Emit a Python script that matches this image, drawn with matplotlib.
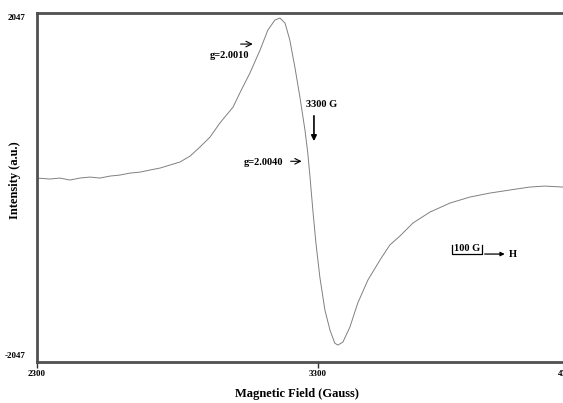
import numpy as np
import matplotlib.pyplot as plt
from matplotlib.transforms import blended_transform_factory

# EPR-spekter: magnetfelt (Gauss) og intensitet (a.u.), lest av figuren
felt = [2300, 2346, 2382, 2417, 2453, 2489, 2524, 2560, 2595, 2631, 2667,
        2702, 2738, 2773, 2809, 2845, 2880, 2916, 2951, 2998, 3022, 3058,
        3094, 3122, 3147, 3165, 3183, 3200, 3218, 3236, 3254, 3264, 3272,
        3282, 3293, 3307, 3325, 3343, 3360, 3371, 3389, 3414, 3442, 3478,
        3521, 3556, 3592, 3638, 3699, 3770, 3841, 3912, 3983, 4054, 4108,
        4172]
intensitet = [97, 85, 97, 73, 97, 109, 97, 121, 133, 157, 169,
              194, 218, 254, 291, 363, 472, 593, 763, 956, 1126, 1368,
              1646, 1889, 2010, 2034, 1973, 1768, 1441, 1077, 678, 400, 109,
              -291, -690, -1102, -1501, -1743, -1901, -1925, -1889, -1707,
              -1416, -1138, -896, -714, -605, -448, -315, -206, -133, -85,
              -48, -12, 0, -12]

x_ticks = [2300, 3300]
x_ticklabels = ["2300", "3300"]
y_ticks = [2047, -2047]
y_ticklabels = ["2047", "-2047"]

plt.rcParams['font.family'] = ['Liberation Serif', 'DejaVu Serif']
plt.rcParams['font.weight'] = 'bold'

fig = plt.figure(figsize=(5.63, 4.03), dpi=100)
ax = fig.add_axes([0.0657, 0.1017, 0.934, 0.865])

ax.plot(felt, intensitet, color="#808080", linewidth=0.7)

ax.set_xlim(2300, 4172)
ax.set_ylim(-2130, 2090)

# akser: venstre, topp og bunn, ingen hoyre
for side in ["left", "top", "bottom"]:
    ax.spines[side].set_linewidth(2)
    ax.spines[side].set_color("#505050")
ax.spines["right"].set_visible(False)

ax.set_xticks(x_ticks)
ax.set_xticklabels(x_ticklabels, fontsize=6.5, fontweight='bold')
ax.set_yticks(y_ticks)
ax.set_yticklabels(y_ticklabels, fontsize=6.5, fontweight='bold')
ax.tick_params(axis='x', length=4, width=1, color="#303030", pad=2)
ax.tick_params(axis='y', length=0, pad=8)

# "4300" som er kuttet av i hoyre kant
trans = blended_transform_factory(ax.transData, ax.transAxes)
ax.text(4154, -0.022, "4300", transform=trans, fontsize=6.5, fontweight='bold',
        ha='left', va='top', clip_on=False)

ax.set_xlabel("Magnetic Field (Gauss)", fontsize=9, fontweight='bold')
ax.xaxis.set_label_coords(0.494, -0.074)
ax.set_ylabel("Intensity (a.u.)", fontsize=9, fontweight='bold')
ax.yaxis.set_label_coords(-0.030, 0.522)

# piler og merknader
pil = dict(arrowstyle="->", color="black", lw=0.8)
ax.annotate("", xy=(3078, 1719), xytext=(3015, 1719), arrowprops=pil)
ax.text(2985, 1586, "g=2.0010", fontsize=7.5, ha='center', va='center')

ax.annotate("", xy=(3252, 300), xytext=(3193, 300), arrowprops=pil)
ax.text(3106, 290, "g=2.0040", fontsize=7.5, ha='center', va='center')

ax.annotate("", xy=(3286, 510), xytext=(3286, 884),
            arrowprops=dict(arrowstyle="-|>", color="black", lw=1.2,
                            mutation_scale=8))
ax.text(3314, 990, "3300 G", fontsize=7.5, ha='center', va='center')

# skala 100 G
ax.plot([3777, 3777, 3884, 3884], [-714, -823, -823, -714], color="black", lw=0.9)
ax.annotate("", xy=(3975, -823), xytext=(3884, -823),
            arrowprops=dict(arrowstyle="-|>", color="black", lw=0.9,
                            mutation_scale=6))
ax.text(3830, -750, "100 G", fontsize=7.5, ha='center', va='center')
ax.text(3980, -823, "H", fontsize=7.5, ha='left', va='center')

plt.savefig("out.png", dpi=100)
